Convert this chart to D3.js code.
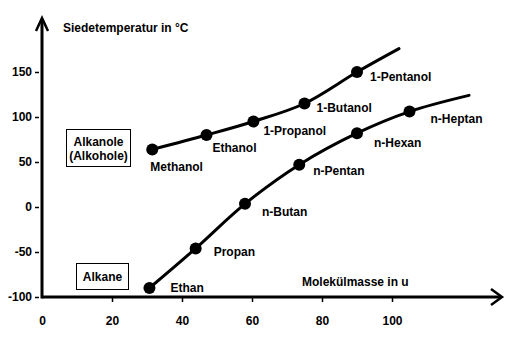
<!DOCTYPE html>
<html>
<head>
<meta charset="utf-8">
<script src="https://cdn.jsdelivr.net/npm/d3@7"></script>
<style>
  html, body { margin: 0; padding: 0; background: #fff; }
  svg { display: block; }
  text { font-family: "Liberation Sans", Arial, sans-serif; font-weight: bold; font-size: 12px; fill: #000; }
</style>
</head>
<body>
<svg id="chart" width="515" height="340"></svg>
<script>
// Boiling points of homologous series vs. molecular mass
const alkaneNames = ["Ethan", "Propan", "n-Butan", "n-Pentan", "n-Hexan", "n-Heptan"];
const alkaneMass  = [30.7, 43.9, 58, 73.5, 90, 105];
const alkaneTemp  = [-90, -46, 3.5, 47, 82, 106];
const alkaneLineEnd = [122, 124];

const alcoholNames = ["Methanol", "Ethanol", "1-Propanol", "1-Butanol", "1-Pentanol"];
const alcoholMass  = [31.5, 47, 60.4, 75, 90];
const alcoholTemp  = [64, 80, 95, 115, 150];
const alcoholLineEnd = [102, 176];

const xTicks = [0, 20, 40, 60, 80, 100];
const yTicks = [-100, -50, 0, 50, 100, 150];

// label offsets (px) from each point
const alkaneLabelOffsets  = [[21, 0], [18, 4], [17, 8], [14, 6], [17, 10], [21, 7]];
const alcoholLabelOffsets = [[-2, 18], [6, 13], [10, 9], [12, 4], [13, 5]];

const svg = d3.select("#chart");
const x = d3.scaleLinear().domain([0, 100]).range([42, 392]);
const y = d3.scaleLinear().domain([-100, 150]).range([297, 72]);
const plain = d => String(d);

// x axis ticks and labels
const xAxis = d3.axisBottom(x).tickValues(xTicks).tickSize(5).tickPadding(14).tickFormat(plain);
const gx = svg.append("g").attr("transform", `translate(0,${y(-100)})`).call(xAxis);
gx.select(".domain").remove();
gx.selectAll(".tick line").attr("stroke", "#000").attr("stroke-width", 1.5)
  .filter(d => d === 0).remove();
gx.selectAll(".tick text").style("font-size", "12px");

// y axis ticks and labels
const yAxis = d3.axisLeft(y).tickValues(yTicks).tickSize(6).tickPadding(4).tickFormat(plain);
const gy = svg.append("g").attr("transform", `translate(${x(0)},0)`).call(yAxis);
gy.select(".domain").remove();
gy.selectAll(".tick line").attr("stroke", "#000").attr("stroke-width", 1.5).attr("x2", -3).attr("x1", -7);
gy.selectAll(".tick text").style("font-size", "12px");

// axis lines with arrow heads
const x0 = x(0), y0 = y(-100);
const xEnd = 502, yTop = 18;
svg.append("line").attr("x1", x0).attr("x2", xEnd - 1).attr("y1", y0).attr("y2", y0)
  .attr("stroke", "#000").attr("stroke-width", 3);
svg.append("line").attr("x1", x0).attr("x2", x0).attr("y1", y0 + 1.5).attr("y2", yTop + 1)
  .attr("stroke", "#000").attr("stroke-width", 3);
svg.append("path").attr("d", `M${xEnd - 11},${y0 - 8} L${xEnd},${y0} L${xEnd - 11},${y0 + 8}`)
  .attr("fill", "none").attr("stroke", "#000").attr("stroke-width", 2.5);
svg.append("path").attr("d", `M${x0 - 6},${yTop + 13} L${x0},${yTop} L${x0 + 6},${yTop + 13}`)
  .attr("fill", "none").attr("stroke", "#000").attr("stroke-width", 2.5);

// axis titles
svg.append("text").attr("x", 63).attr("y", 32).text("Siedetemperatur in °C");
svg.append("text").attr("x", 302).attr("y", 286).text("Molekülmasse in u");

// series
const line = d3.line().x(d => x(d[0])).y(d => y(d[1])).curve(d3.curveCatmullRom.alpha(0.5));

function drawSeries(names, mass, temp, end, offsets) {
  const pts = mass.map((m, i) => [m, temp[i]]);
  svg.append("path").datum(pts.concat([end])).attr("d", line)
    .attr("fill", "none").attr("stroke", "#000").attr("stroke-width", 3).attr("stroke-linecap", "round");
  svg.append("g").selectAll("circle").data(pts).join("circle")
    .attr("cx", d => x(d[0])).attr("cy", d => y(d[1])).attr("r", 6).attr("fill", "#000");
  svg.append("g").selectAll("text").data(pts).join("text")
    .attr("x", (d, i) => x(d[0]) + offsets[i][0])
    .attr("y", (d, i) => y(d[1]) + offsets[i][1] + 4)
    .text((d, i) => names[i]);
}
drawSeries(alcoholNames, alcoholMass, alcoholTemp, alcoholLineEnd, alcoholLabelOffsets);
drawSeries(alkaneNames, alkaneMass, alkaneTemp, alkaneLineEnd, alkaneLabelOffsets);

// series legend boxes
svg.append("rect").attr("x", 66.5).attr("y", 129.5).attr("width", 64).attr("height", 37)
  .attr("fill", "#fff").attr("stroke", "#000").attr("stroke-width", 1);
svg.append("text").attr("x", 98.5).attr("y", 146).attr("text-anchor", "middle").text("Alkanole");
svg.append("text").attr("x", 98.5).attr("y", 160).attr("text-anchor", "middle").text("(Alkohole)");

svg.append("rect").attr("x", 76.5).attr("y", 263.5).attr("width", 52).attr("height", 26)
  .attr("fill", "#fff").attr("stroke", "#000").attr("stroke-width", 1);
svg.append("text").attr("x", 102.5).attr("y", 281).attr("text-anchor", "middle").text("Alkane");
</script>
</body>
</html>
